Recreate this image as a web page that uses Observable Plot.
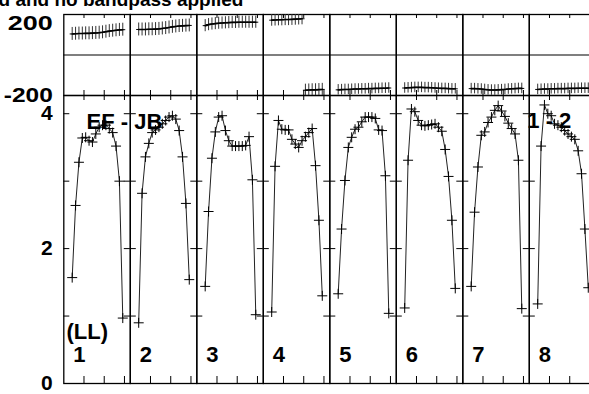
<!DOCTYPE html>
<html><head><meta charset="utf-8">
<script src="https://cdn.jsdelivr.net/npm/d3@7"></script>
<script src="https://cdn.jsdelivr.net/npm/@observablehq/plot@0.6"></script>
<style>
html,body{margin:0;padding:0;background:#fff;}
#wrap{position:relative;width:589px;height:394px;overflow:hidden;background:#fff;}
#wrap svg{position:absolute;left:0;top:0;}
</style></head><body><div id="wrap"></div>
<script>
// ---- data ----
const ifs = [1, 2, 3, 4, 5, 6, 7, 8];
const channels = [1, 2, 3, 4, 5, 6, 7, 8, 9, 10, 11, 12, 13, 14, 15, 16];

const ampIF1 = [1.57, 2.64, 3.28, 3.64, 3.65, 3.60, 3.58, 3.70, 3.80, 3.83, 3.83, 3.78, 3.72, 3.52, 3.00, 0.97];
const ampIF2 = [0.90, 2.82, 3.36, 3.56, 3.72, 3.76, 3.80, 3.85, 3.90, 3.95, 3.97, 3.92, 3.75, 3.36, 2.67, 1.54];
const ampIF3 = [1.44, 2.55, 3.34, 3.73, 3.95, 3.97, 3.75, 3.60, 3.52, 3.52, 3.52, 3.52, 3.53, 3.66, 3.02, 1.02];
const ampIF4 = [1.06, 3.22, 3.90, 3.77, 3.76, 3.76, 3.62, 3.55, 3.50, 3.60, 3.66, 3.72, 3.78, 3.23, 2.42, 1.30];
const ampIF5 = [1.33, 2.29, 3.01, 3.50, 3.65, 3.77, 3.80, 3.88, 3.95, 3.95, 3.95, 3.93, 3.76, 3.75, 3.08, 1.04];
const ampIF6 = [1.12, 3.31, 4.07, 4.03, 3.90, 3.83, 3.82, 3.83, 3.84, 3.85, 3.80, 3.74, 3.47, 3.07, 2.42, 1.41];
const ampIF7 = [1.44, 2.54, 3.21, 3.68, 3.73, 3.87, 3.95, 4.05, 4.12, 4.04, 3.96, 3.86, 3.78, 3.70, 3.31, 1.11];
const ampIF8 = [1.18, 3.52, 4.13, 4.00, 3.97, 3.85, 3.83, 3.80, 3.75, 3.70, 3.66, 3.62, 3.45, 3.11, 2.29, 1.42];

const phaseIF1 = [104, 105, 106, 106, 107, 107, 108, 109, 110, 112, 115, 118, 120, 122, 124, 125];
const phaseIF2 = [126, 126, 126, 127, 127, 128, 129, 131, 133, 136, 139, 141, 143, 144, 145, 146];
const phaseIF3 = [145, 150, 153, 155, 157, 158, 159, 160, 161, 161, 162, 162, 162, 162, 162, 162];
const phaseIF4 = [172, 173, 174, 174, 175, 175, 176, 177, 178, 179, -174, -173, -172, -172, -171, -170];
const phaseIF5 = [-172, -171, -170, -170, -169, -168, -168, -167, -167, -166, -166, -165, -165, -164, -164, -163];
const phaseIF6 = [-163, -162, -161, -160, -160, -160, -161, -161, -162, -163, -164, -165, -165, -166, -167, -167];
const phaseIF7 = [-166, -166, -167, -168, -170, -172, -173, -173, -172, -171, -170, -168, -167, -166, -165, -165];
const phaseIF8 = [-170, -169, -168, -168, -167, -167, -166, -166, -166, -165, -165, -165, -164, -164, -164, -164];
const phaseErr = [32, 32, 30, 30, 26, 26, 26, 26];

const ampTickLabels = [0, 2, 4];
const ampTicks = [1, 2, 3, 4];
const phaseTickLabels = [-200, 200];
const chanTicks = [4.5, 10.5, 16.5];
const titleText = "d and no bandpass applied";
const baselineLabel = "EF - JB";
const polLabel = "(LL)";
const pairLabel = "1 - 2";

// ---- tables ----
const ampSeries = [ampIF1, ampIF2, ampIF3, ampIF4, ampIF5, ampIF6, ampIF7, ampIF8];
const phaseSeries = [phaseIF1, phaseIF2, phaseIF3, phaseIF4, phaseIF5, phaseIF6, phaseIF7, phaseIF8];
const ampRows = ifs.flatMap((f, i) => channels.map((c, j) => ({if: f, ch: c, amp: ampSeries[i][j]})));
const phaseRows = ifs.flatMap((f, i) => channels.map((c, j) => ({if: f, ch: c, phase: phaseSeries[i][j], err: phaseErr[i]})));

// ---- layout ----
const W = 600, left = 63.3, right = 4.7;
const panelW = (W - left - right) / ifs.length;
const font = "'Liberation Sans', Arial, Helvetica, sans-serif";
const cross = (hw, hh) => ({
  draw(ctx) {
    ctx.moveTo(-hw, 0); ctx.lineTo(hw, 0);
    if (hh > 0) { ctx.moveTo(0, -hh); ctx.lineTo(0, hh); }
  }
});
const common = {
  width: W, marginLeft: left, marginRight: right,
  x: {domain: [-1.49, 18.23], axis: null},
  fx: {domain: ifs, padding: 0, axis: null, round: false},
  style: `background: transparent; max-width: none; overflow: visible; font-family: ${font}; font-weight: bold; font-size: 21px; color: black;`
};
const txt = {fontSize: 22, fontWeight: "bold", fill: "black", fontFamily: font, textAnchor: "start", lineAnchor: "bottom"};

const ampH = 394, ampTop = 95, ampBottom = 11, ampInner = ampH - ampTop - ampBottom;
const ampPlot = Plot.plot({
  ...common, height: ampH, marginTop: ampTop, marginBottom: ampBottom,
  y: {domain: [0, 4.27], ticks: ampTickLabels, tickSize: 0, tickPadding: 11, tickFormat: d => String(d), label: null},
  facet: {data: ampRows, x: "if"},
  marks: [
    Plot.frame({stroke: "black", strokeWidth: 1.3}),
    Plot.tickY(ampTicks, {y: d => d, insetRight: panelW - 6, stroke: "black"}),
    Plot.tickY(ampTicks, {y: d => d, insetLeft: panelW - 6, stroke: "black"}),
    Plot.tickX(chanTicks, {x: d => d, insetTop: ampInner - 7, stroke: "black"}),
    Plot.tickX(chanTicks, {x: d => d, insetBottom: ampInner - 5, stroke: "black"}),
    Plot.line(ampRows, {x: "ch", y: "amp", z: "if", stroke: "#222", strokeWidth: 1}),
    Plot.dot(ampRows, {x: "ch", y: "amp", symbol: cross(5, 5), stroke: "black", fill: "none", strokeWidth: 1}),
    Plot.text(ampRows, {...txt, filter: d => d.ch === 1, text: d => String(d.if), frameAnchor: "bottom-left", dx: 9.5, dy: -22}),
    Plot.text(ampRows, {...txt, filter: d => d.ch === 1 && d.if === 1, text: () => polLabel, frameAnchor: "bottom-left", dx: 2.7, dy: -45}),
    Plot.text(ampRows, {...txt, filter: d => d.ch === 1 && d.if === 1, text: () => baselineLabel, frameAnchor: "top-left", dx: 22.7, dy: 33}),
    Plot.text(ampRows, {...txt, filter: d => d.ch === 1 && d.if === 8, text: () => pairLabel, frameAnchor: "top-left", dx: -2, dy: 32})
  ]
});

const phH = 100, phTop = 14, phBottom = 5, phInner = phH - phTop - phBottom;
const phasePlot = Plot.plot({
  ...common, height: phH, marginTop: phTop, marginBottom: phBottom,
  y: {domain: [-200, 200], ticks: phaseTickLabels, tickSize: 0, tickPadding: 11, tickFormat: d => String(d), label: null},
  facet: {data: phaseRows, x: "if"},
  marks: [
    Plot.ruleY([0], {stroke: "black", strokeWidth: 1.2}),
    Plot.frame({stroke: "black", strokeWidth: 1.3}),
    Plot.tickX(chanTicks, {x: d => d, insetTop: phInner - 5, stroke: "black"}),
    Plot.tickX(chanTicks, {x: d => d, insetBottom: phInner - 4, stroke: "black"}),
    Plot.ruleX(phaseRows, {x: "ch", y1: d => d.phase - d.err, y2: d => d.phase + d.err, stroke: "#333", strokeWidth: 1, clip: true}),
    Plot.dot(phaseRows, {x: "ch", y: "phase", symbol: cross(2.5, 0), stroke: "black", strokeWidth: 1}),
    Plot.line(phaseRows, {x: "ch", y: "phase", z: d => d.if * 10 + (d.phase > 0 ? 1 : 0), stroke: "black", strokeWidth: 1.6})
  ]
});

d3.select(phasePlot).append("text")
  .attr("x", -1.5).attr("y", 6)
  .attr("text-anchor", "start")
  .attr("font-size", 19).attr("font-weight", "bold").attr("font-family", font)
  .attr("fill", "black")
  .text(titleText);

const wrap = document.getElementById("wrap");
wrap.appendChild(ampPlot);
wrap.appendChild(phasePlot);

// the reference's phase labels use wide glyphs: stretch them, keeping their right edge
const wide = {"200": 45, "-200": 49};
d3.select(phasePlot).selectAll("text")
  .filter(function() { return this.textContent in wide; })
  .each(function() {
    const L = wide[this.textContent];
    const bb = this.getBBox();
    const r = bb.x + bb.width;
    this.removeAttribute("dx");
    this.setAttribute("text-anchor", "start");
    this.setAttribute("x", r - L);
    this.setAttribute("lengthAdjust", "spacingAndGlyphs");
    this.setAttribute("textLength", L);
    if (this.textContent === "200") this.setAttribute("dy", "0.42em");
  });
</script></body></html>
